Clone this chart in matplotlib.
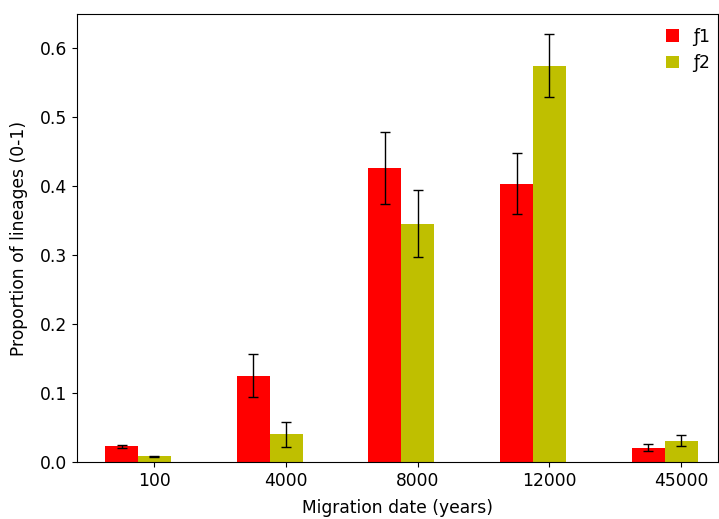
import numpy as np
import matplotlib
matplotlib.use("Agg")
import matplotlib.pyplot as plt

categories = ["100", "4000", "8000", "12000", "45000"]
f1 = [0.023, 0.125, 0.427, 0.404, 0.021]
f1_err = [0.002, 0.031, 0.052, 0.044, 0.005]
f2 = [0.008, 0.040, 0.346, 0.575, 0.031]
f2_err = [0.001, 0.018, 0.049, 0.046, 0.008]

plt.rcParams['font.size'] = 12.3
fig = plt.figure(figsize=(7.19, 5.19), dpi=100)
ax = fig.add_axes([77/719, 57/519, 641/719, 448/519])
x = np.arange(len(categories))
w = 0.25
ekw = dict(elinewidth=1.0, capthick=1.0)
ax.bar(x, f1, width=w, color='r', yerr=f1_err, capsize=3.6, error_kw=ekw, label='ƒ1')
ax.bar(x + w, f2, width=w, color='y', yerr=f2_err, capsize=3.6, error_kw=ekw, label='ƒ2')
ax.set_xticks(x + w)
ax.set_xticklabels(categories)
ax.set_xlim(-0.338, 4.53)
ax.set_ylim(0, 0.65)
ax.set_xlabel("Migration date (years)", labelpad=7)
ax.set_ylabel("Proportion of lineages (0-1)", labelpad=8.5)
ax.legend(frameon=False, loc='upper right', handlelength=0.75, handleheight=0.75,
          bbox_to_anchor=(1.011, 1.004))
fig.savefig("out.png", dpi=100)
